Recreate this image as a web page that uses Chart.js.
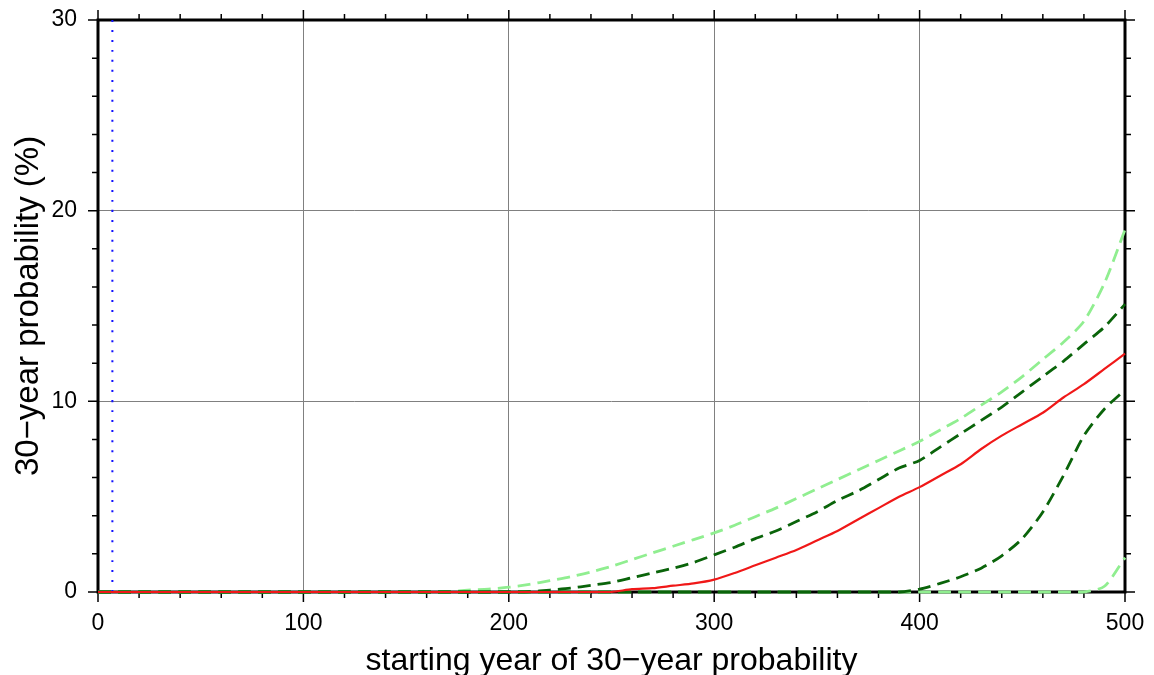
<!doctype html>
<html lang="en">
<head>
    <meta charset="UTF-8">
    <title>30-year probability</title>
    <script src="https://cdn.jsdelivr.net/npm/chart.js"></script>
    <style>
        body { margin: 0; background: #fff; }
    </style>
</head>
<body>
<canvas id="probChart" width="1154" height="675"></canvas>

<script>
    // starting years (x)
    const years = [0, 10, 20, 30, 40, 50, 60, 70, 80, 90,
        100, 110, 120, 130, 140, 150, 160, 170, 180, 190,
        200, 210, 220, 230, 240, 250, 260, 270, 280, 290,
        300, 310, 320, 330, 340, 350, 360, 370, 380, 390,
        400, 410, 420, 430, 440, 450, 460, 470, 480, 490, 500];

    // median (red)
    const median = [0, 0, 0, 0, 0, 0, 0, 0, 0, 0,
        0, 0, 0, 0, 0, 0, 0, 0, 0, 0,
        0, 0, 0, 0, 0, 0, 0.15, 0.2, 0.33, 0.45,
        0.65, 1.0, 1.4, 1.8, 2.2, 2.7, 3.2, 3.8, 4.4, 5.0,
        5.5, 6.1, 6.7, 7.5, 8.2, 8.8, 9.4, 10.2, 10.9, 11.7, 12.5];

    // inner band (dark green)
    const upperInner = [0, 0, 0, 0, 0, 0, 0, 0, 0, 0,
        0, 0, 0, 0, 0, 0, 0, 0, 0, 0,
        0, 0.02, 0.1, 0.2, 0.35, 0.5, 0.75, 1.0, 1.25, 1.55,
        1.95, 2.35, 2.8, 3.2, 3.7, 4.2, 4.8, 5.3, 5.9, 6.5,
        6.9, 7.6, 8.3, 9.0, 9.7, 10.5, 11.3, 12.1, 13.0, 13.9, 15.1];
    const lowerInner = [0, 0, 0, 0, 0, 0, 0, 0, 0, 0,
        0, 0, 0, 0, 0, 0, 0, 0, 0, 0,
        0, 0, 0, 0, 0, 0, 0, 0, 0, 0,
        0, 0, 0, 0, 0, 0, 0, 0, 0, 0,
        0.15, 0.45, 0.8, 1.25, 1.9, 2.8, 4.2, 6.1, 8.2, 9.6, 10.6];

    // outer band (light green)
    const upperOuter = [0, 0, 0, 0, 0, 0, 0, 0, 0, 0,
        0, 0, 0, 0, 0, 0, 0, 0, 0.1, 0.15,
        0.25, 0.4, 0.6, 0.8, 1.05, 1.35, 1.7, 2.05, 2.4, 2.75,
        3.1, 3.5, 3.95, 4.4, 4.9, 5.4, 5.9, 6.4, 6.9, 7.4,
        7.9, 8.5, 9.1, 9.8, 10.5, 11.3, 12.2, 13.1, 14.2, 16.2, 19.0];
    const lowerOuter = [0, 0, 0, 0, 0, 0, 0, 0, 0, 0,
        0, 0, 0, 0, 0, 0, 0, 0, 0, 0,
        0, 0, 0, 0, 0, 0, 0, 0, 0, 0,
        0, 0, 0, 0, 0, 0, 0, 0, 0, 0,
        0, 0, 0, 0, 0, 0, 0, 0, 0, 0.3, 1.8];

    // current year marker (blue dotted)
    const markerYear = 7;
    const yRange = [0, 30];

    const xTitle = 'starting year of 30\u2212year probability';
    const yTitle = '30\u2212year probability (%)';

    function pts(values) {
        return years.map((x, i) => ({x: x, y: values[i]}));
    }

    // frame + outside ticks on all four sides
    const framePlugin = {
        id: 'frame',
        beforeDatasetsDraw(chart) {
            const {ctx, chartArea: a, scales: {x, y}} = chart;
            ctx.save();
            ctx.strokeStyle = '#000';
            ctx.lineWidth = 1.5;
            ctx.beginPath();
            for (let v = 0; v <= 500; v += 20) {
                const px = x.getPixelForValue(v);
                const len = v % 100 === 0 ? 10 : 6;
                ctx.moveTo(px, a.bottom); ctx.lineTo(px, a.bottom + len);
                ctx.moveTo(px, a.top); ctx.lineTo(px, a.top - len);
            }
            for (let v = 0; v <= 30; v += 2) {
                const py = y.getPixelForValue(v);
                const len = v % 10 === 0 ? 10 : 6;
                ctx.moveTo(a.left, py); ctx.lineTo(a.left - len, py);
                ctx.moveTo(a.right, py); ctx.lineTo(a.right + len, py);
            }
            ctx.stroke();
            ctx.lineWidth = 3;
            ctx.strokeRect(a.left, a.top, a.right - a.left, a.bottom - a.top);
            ctx.restore();
        }
    };

    const font = 'Liberation Sans, Arial, Helvetica, sans-serif';
    const dash = [13, 7];

    const ctx = document.getElementById('probChart').getContext('2d');
    new Chart(ctx, {
        type: 'line',
        data: {
            datasets: [
                {data: pts(median), borderColor: '#f01818', borderWidth: 2.2, clip: false},
                {data: pts(upperInner), borderColor: '#0a640a', borderWidth: 2.8, borderDash: dash, clip: false},
                {data: pts(lowerInner), borderColor: '#0a640a', borderWidth: 2.8, borderDash: dash, clip: false},
                {data: pts(upperOuter), borderColor: '#90ee90', borderWidth: 2.8, borderDash: dash, clip: false},
                {data: pts(lowerOuter), borderColor: '#90ee90', borderWidth: 2.8, borderDash: dash, clip: false},
                {
                    data: [{x: markerYear, y: yRange[0]}, {x: markerYear, y: yRange[1]}],
                    borderColor: '#1010ff',
                    borderWidth: 2,
                    borderDash: [2, 8],
                    clip: false
                }
            ]
        },
        options: {
            responsive: false,
            animation: false,
            events: [],
            elements: {
                point: {radius: 0},
                line: {tension: 0.25, fill: false}
            },
            layout: {padding: {top: 20, right: 29, left: 0, bottom: 0}},
            plugins: {
                legend: {display: false},
                tooltip: {enabled: false}
            },
            scales: {
                x: {
                    type: 'linear',
                    min: 0,
                    max: 500,
                    afterFit(s) {
                        s.height = 83;
                        s.paddingLeft = 0;
                        s.paddingRight = 0;
                    },
                    border: {display: false},
                    grid: {color: '#808080', lineWidth: 1, drawTicks: false},
                    ticks: {
                        stepSize: 100,
                        padding: 18,
                        color: '#000',
                        maxRotation: 0,
                        font: {family: font, size: 23}
                    },
                    title: {
                        display: true,
                        text: xTitle,
                        color: '#000',
                        padding: {top: 0, bottom: -5},
                        font: {family: font, size: 32}
                    }
                },
                y: {
                    min: yRange[0],
                    max: yRange[1],
                    afterFit(s) {
                        s.width = 98;
                        s.paddingTop = 0;
                        s.paddingBottom = 0;
                    },
                    border: {display: false},
                    grid: {color: '#808080', lineWidth: 1, drawTicks: false},
                    ticks: {
                        stepSize: 10,
                        padding: 21,
                        color: '#000',
                        font: {family: font, size: 23}
                    },
                    title: {
                        display: true,
                        text: yTitle,
                        color: '#000',
                        padding: {top: 9, bottom: 0},
                        font: {family: font, size: 33}
                    }
                }
            }
        },
        plugins: [framePlugin]
    });
</script>
</body>
</html>
